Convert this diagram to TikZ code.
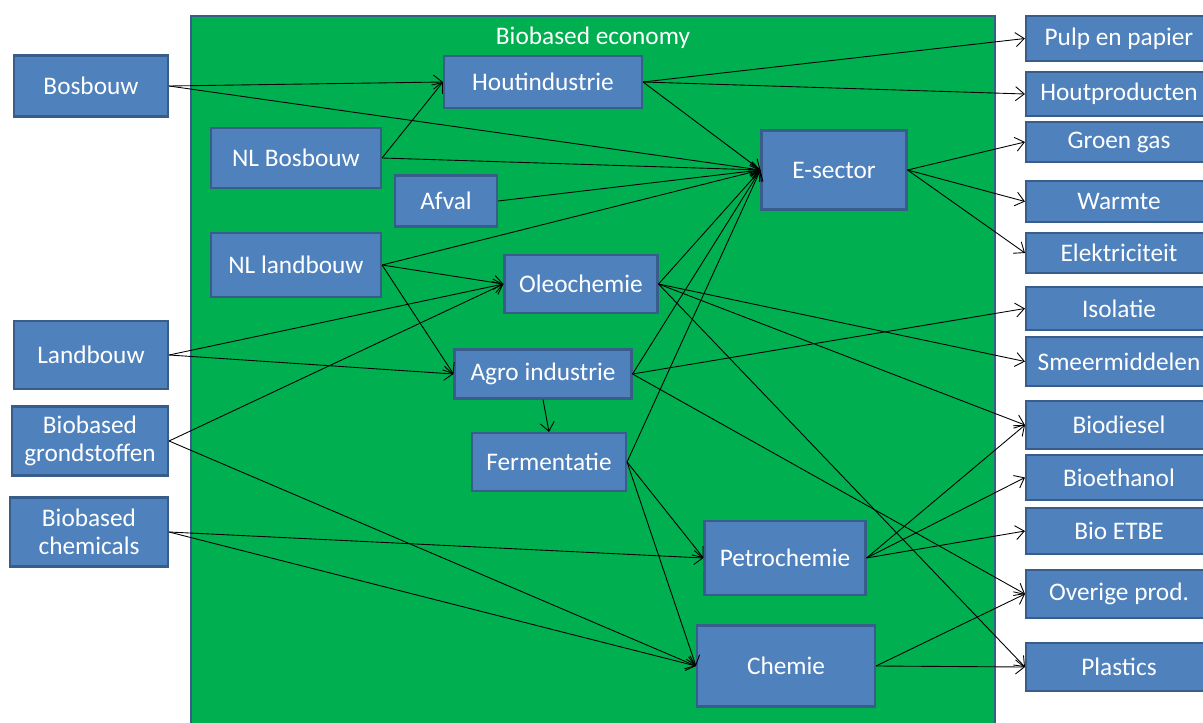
\documentclass[tikz,border=0pt]{standalone}
\usepackage{fontspec}
\setmainfont{Carlito}
\usetikzlibrary{arrows.meta}
\definecolor{bbgreen}{HTML}{00B050}
\definecolor{boxblue}{HTML}{4F81BD}
\definecolor{boxedge}{HTML}{385D8A}
\tikzset{
  box/.style={draw=boxedge, line width=1.2pt, fill=boxblue, text=white,
    align=center, inner sep=1pt, font=\fontsize{14.4}{16}\selectfont},
  outbox/.style={box, minimum width=3.72cm},
  flow/.style={-{Straight Barb[length=5pt, width=8pt]}, black, line width=0.5pt}
}
\begin{document}
\begin{tikzpicture}[x=0.02cm, y=-0.02cm]
  \clip (0,0) rectangle (1203,723);
  \fill[white] (0,0) rectangle (1203,723);

  % Economy frame
  \draw[fill=bbgreen, draw=boxedge, line width=1.2pt] (191,16) rectangle (995,740);
  \node[text=white, font=\fontsize{14.4}{16}\selectfont] (title) at (593,38) {Biobased economy};

  % Sources
  \node[box, minimum width=3.08cm, minimum height=1.22cm] (bosbouw) at (91,86) {Bosbouw};
  \node[box, minimum width=3.08cm, minimum height=1.36cm] (landbouw) at (91,355) {Landbouw};
  \node[box, minimum width=3.12cm, minimum height=1.38cm] (grondst) at (90,441) {Biobased\\grondstoffen};
  \node[box, minimum width=3.16cm, minimum height=1.38cm] (chemicals) at (89,532) {Biobased\\chemicals};

  % Sectors
  \node[box, minimum width=3.96cm, minimum height=1.04cm] (hout) at (543,82) {Houtindustrie};
  \node[box, minimum width=3.40cm, minimum height=1.20cm] (nlbos) at (296,158) {NL Bosbouw};
  \node[box, minimum width=2.04cm, minimum height=1.02cm] (afval) at (446,201) {Afval};
  \node[box, minimum width=2.90cm, minimum height=1.58cm] (esector) at (834,170) {E-sector};
  \node[box, minimum width=3.40cm, minimum height=1.28cm] (nlland) at (296,265) {NL landbouw};
  \node[box, minimum width=3.06cm, minimum height=1.16cm] (oleo) at (581,284) {Oleochemie};
  \node[box, minimum width=3.54cm, minimum height=0.98cm] (agro) at (543,374) {Agro industrie};
  \node[box, minimum width=3.08cm, minimum height=1.16cm] (ferm) at (549,462) {Fermentatie};
  \node[box, minimum width=3.22cm, minimum height=1.48cm] (petro) at (785,558) {Petrochemie};
  \node[box, minimum width=3.56cm, minimum height=1.62cm] (chemie) at (786,666) {Chemie};

  % Products
  \node[outbox, minimum height=0.90cm] (pulp) at (1119,38.5) {Pulp en papier};
  \node[outbox, minimum height=0.88cm] (houtprod) at (1119,94) {Houtproducten};
  \node[outbox, minimum height=0.80cm] (groengas) at (1119,142) {Groen gas};
  \node[outbox, minimum height=0.82cm] (warmte) at (1119,201.5) {Warmte};
  \node[outbox, minimum height=0.80cm] (elek) at (1119,253) {Elektriciteit};
  \node[outbox, minimum height=0.86cm] (isolatie) at (1119,308.5) {Isolatie};
  \node[outbox, minimum height=0.98cm] (smeer) at (1119,361.5) {Smeermiddelen};
  \node[outbox, minimum height=0.96cm] (biodiesel) at (1119,425) {Biodiesel};
  \node[outbox, minimum height=0.90cm] (bioeth) at (1119,477.5) {Bioethanol};
  \node[outbox, minimum height=0.92cm] (etbe) at (1119,531) {Bio ETBE};
  \node[outbox, minimum height=0.96cm] (overig) at (1119,594) {Overige prod.};
  \node[outbox, minimum height=0.96cm] (plastics) at (1119,667) {Plastics};

  % Flows into the sectors
  \draw[flow] (bosbouw.east) -- (hout.west);
  \draw[flow] (bosbouw.east) -- (esector.west);
  \draw[flow] (nlbos.east) -- (hout.west);
  \draw[flow] (nlbos.east) -- (esector.west);
  \draw[flow] (afval.east) -- (esector.west);
  \draw[flow] (nlland.east) -- (esector.west);
  \draw[flow] (nlland.east) -- (oleo.west);
  \draw[flow] (nlland.east) -- (agro.west);
  \draw[flow] (landbouw.east) -- (oleo.west);
  \draw[flow] (landbouw.east) -- (agro.west);
  \draw[flow] (grondst.east) -- (oleo.west);
  \draw[flow] (grondst.east) -- (chemie.west);
  \draw[flow] (chemicals.east) -- (petro.west);
  \draw[flow] (chemicals.east) -- (chemie.west);

  % Between sectors
  \draw[flow] (hout.east) -- (esector.west);
  \draw[flow] (oleo.east) -- (esector.west);
  \draw[flow] (agro.east) -- (esector.west);
  \draw[flow] (ferm.east) -- (esector.west);
  \draw[flow] (agro.south) -- (ferm.north);
  \draw[flow] (ferm.east) -- (petro.west);
  \draw[flow] (ferm.east) -- (chemie.west);

  % Flows to the products
  \draw[flow] (hout.east) -- (pulp.west);
  \draw[flow] (hout.east) -- (houtprod.west);
  \draw[flow] (esector.east) -- (groengas.west);
  \draw[flow] (esector.east) -- (warmte.west);
  \draw[flow] (esector.east) -- (elek.west);
  \draw[flow] (oleo.east) -- (smeer.west);
  \draw[flow] (oleo.east) -- (biodiesel.west);
  \draw[flow] (oleo.east) -- (plastics.west);
  \draw[flow] (agro.east) -- (isolatie.west);
  \draw[flow] (agro.east) -- (overig.west);
  \draw[flow] (petro.east) -- (biodiesel.west);
  \draw[flow] (petro.east) -- (bioeth.west);
  \draw[flow] (petro.east) -- (etbe.west);
  \draw[flow] (chemie.east) -- (overig.west);
  \draw[flow] (chemie.east) -- (plastics.west);
\end{tikzpicture}
\end{document}
